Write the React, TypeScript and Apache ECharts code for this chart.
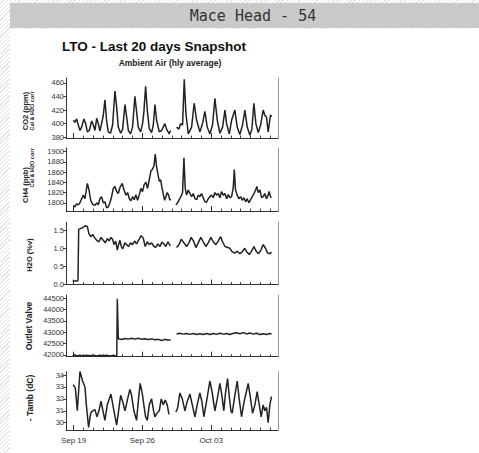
import React, { useEffect, useRef } from "react";
import * as echarts from "echarts";

// x values are day offsets from Sep 19 00:00; null marks the data gap
const dateLabels = ["Sep 19", "Sep 26", "Oct 03"];
const majorDays = [0, 7, 14];
const dailyTicks = [0, 1, 2, 3, 4, 5, 6, 7, 8, 9, 10, 11, 12, 13, 14, 15, 16, 17, 18, 19, 20];

const co2 = [
  [-0.03, 405], [0.14, 402], [0.31, 407], [0.48, 398], [0.65, 390], [0.82, 395], [1.06, 407], [1.23, 400],
  [1.4, 388], [1.6, 390], [1.84, 404], [2.01, 398], [2.18, 390], [2.35, 408], [2.52, 400], [2.68, 389],
  [2.85, 400], [3.02, 412], [3.19, 435], [3.36, 405], [3.53, 388], [3.76, 386], [3.97, 398], [4.21, 448],
  [4.38, 425], [4.55, 395], [4.79, 386], [4.99, 392], [5.23, 428], [5.4, 410], [5.57, 390], [5.8, 385],
  [6.0, 395], [6.24, 440], [6.41, 418], [6.58, 395], [6.82, 388], [7.02, 400], [7.16, 418], [7.33, 455],
  [7.5, 420], [7.7, 393], [7.94, 387], [8.11, 398], [8.28, 428], [8.45, 405], [8.72, 388], [8.96, 390],
  [9.29, 400], [9.46, 392], [9.73, 385], [9.87, 390], [10.15, null], [10.48, 395], [10.72, 392], [10.89, 400],
  [11.09, 398], [11.26, 465], [11.43, 415], [11.67, 385], [12.01, 395], [12.27, 430], [12.52, 405], [12.85, 388],
  [13.12, 400], [13.36, 418], [13.6, 395], [13.87, 385], [14.14, 398], [14.38, 437], [14.62, 405], [14.89, 386],
  [15.16, 395], [15.4, 420], [15.57, 400], [15.84, 385], [16.08, 405], [16.41, 420], [16.65, 395], [16.92, 384],
  [17.19, 398], [17.43, 420], [17.67, 395], [17.94, 383], [18.14, 392], [18.35, 430], [18.55, 400], [18.79, 387],
  [19.03, 398], [19.29, 420], [19.46, 412], [19.63, 410], [19.8, 388], [20.04, 413], [20.14, 410],
];

const ch4 = [
  [-0.03, 1795], [0.14, 1792], [0.31, 1798], [0.48, 1796], [0.65, 1800], [0.82, 1808], [0.99, 1815], [1.16, 1808],
  [1.4, 1838], [1.57, 1825], [1.74, 1805], [1.94, 1797], [2.18, 1795], [2.35, 1800], [2.52, 1796], [2.68, 1808],
  [2.85, 1812], [3.02, 1800], [3.19, 1802], [3.36, 1790], [3.53, 1792], [3.7, 1800], [3.87, 1812], [4.04, 1828],
  [4.21, 1832], [4.38, 1822], [4.55, 1818], [4.72, 1830], [4.96, 1838], [5.13, 1825], [5.33, 1815], [5.5, 1820],
  [5.67, 1808], [5.84, 1804], [6.0, 1812], [6.17, 1806], [6.34, 1816], [6.51, 1805], [6.68, 1815], [6.85, 1828],
  [7.02, 1822], [7.19, 1836], [7.36, 1840], [7.53, 1828], [7.7, 1845], [7.87, 1862], [8.04, 1866], [8.18, 1872],
  [8.31, 1895], [8.45, 1870], [8.62, 1852], [8.72, 1842], [8.86, 1845], [8.99, 1830], [9.12, 1818], [9.26, 1805],
  [9.39, 1812], [9.53, 1820], [9.67, 1815], [9.8, 1805], [9.87, 1808], [10.15, null], [10.41, 1796], [10.58, 1800],
  [10.75, 1806], [10.92, 1812], [11.09, 1820], [11.23, 1888], [11.36, 1828], [11.5, 1815], [11.67, 1825], [11.84, 1818],
  [12.01, 1812], [12.18, 1818], [12.35, 1808], [12.52, 1806], [12.68, 1815], [12.85, 1812], [13.02, 1818], [13.19, 1810],
  [13.36, 1802], [13.53, 1801], [13.7, 1808], [13.87, 1812], [14.04, 1815], [14.21, 1810], [14.38, 1820], [14.55, 1815],
  [14.72, 1818], [14.89, 1810], [15.06, 1822], [15.23, 1815], [15.4, 1818], [15.57, 1808], [15.74, 1816], [15.91, 1810],
  [16.08, 1812], [16.25, 1830], [16.35, 1865], [16.48, 1825], [16.65, 1815], [16.82, 1808], [16.99, 1812], [17.16, 1805],
  [17.33, 1810], [17.5, 1802], [17.67, 1808], [17.84, 1800], [18.01, 1806], [18.18, 1812], [18.35, 1818], [18.52, 1825],
  [18.65, 1832], [18.79, 1820], [18.96, 1825], [19.13, 1810], [19.29, 1812], [19.46, 1818], [19.63, 1808], [19.8, 1815],
  [19.9, 1822], [20.04, 1812], [20.14, 1810],
];

const h2o = [
  [-0.09, 0.1], [0.38, 0.1], [0.45, 0.12], [0.52, 1.52], [0.75, 1.55], [0.99, 1.58], [1.19, 1.62], [1.4, 1.6],
  [1.57, 1.4], [1.74, 1.32], [1.94, 1.38], [2.18, 1.28], [2.35, 1.22], [2.58, 1.18], [2.79, 1.3], [3.02, 1.22],
  [3.23, 1.15], [3.43, 1.27], [3.63, 1.2], [3.8, 1.3], [3.97, 1.25], [4.11, 1.1], [4.28, 1.2], [4.45, 0.95],
  [4.58, 1.1], [4.72, 1.22], [4.86, 1.05], [4.99, 0.98], [5.23, 1.15], [5.4, 1.1], [5.6, 1.05], [5.8, 1.15],
  [6.0, 1.1], [6.21, 1.2], [6.41, 1.12], [6.68, 1.25], [6.88, 1.35], [7.09, 1.28], [7.29, 1.05], [7.5, 1.18],
  [7.7, 1.1], [7.94, 1.15], [8.18, 1.05], [8.38, 1.03], [8.58, 1.12], [8.79, 1.05], [8.99, 1.17], [9.19, 1.12],
  [9.39, 1.05], [9.6, 1.18], [9.8, 1.08], [9.87, 1.1], [10.15, null], [10.48, 1.02], [10.72, 1.1], [10.96, 1.25],
  [11.23, 1.15], [11.5, 1.05], [11.74, 1.15], [11.97, 1.3], [12.21, 1.2], [12.45, 1.02], [12.68, 1.15], [12.95, 1.3],
  [13.19, 1.18], [13.46, 1.05], [13.7, 1.15], [13.97, 1.3], [14.21, 1.18], [14.48, 1.1], [14.72, 1.2], [14.96, 1.32],
  [15.16, 1.18], [15.4, 1.05], [15.63, 1.03], [15.91, 1.0], [16.14, 0.9], [16.41, 0.87], [16.65, 0.92], [16.92, 0.85],
  [17.16, 0.9], [17.39, 1.0], [17.63, 0.9], [17.87, 0.83], [18.11, 0.92], [18.35, 1.05], [18.58, 0.92], [18.82, 0.85],
  [19.06, 0.95], [19.29, 1.1], [19.53, 1.0], [19.73, 0.87], [19.97, 0.85], [20.14, 0.9],
];

const outletValve = [
  [-0.09, 41970], [0.14, 42010], [0.31, 41960], [0.65, 41990], [0.99, 41960], [1.33, 41985], [1.67, 41965], [2.01, 41990],
  [2.35, 41960], [2.68, 41985], [3.02, 41965], [3.36, 41990], [3.7, 41960], [4.04, 41975], [4.31, 41960], [4.4, 41970],
  [4.45, 44480], [4.55, 42720], [4.89, 42680], [5.23, 42730], [5.57, 42700], [5.91, 42740], [6.24, 42700], [6.58, 42735],
  [6.92, 42690], [7.26, 42720], [7.6, 42680], [7.94, 42710], [8.28, 42670], [8.62, 42690], [8.96, 42640], [9.29, 42690],
  [9.63, 42650], [9.87, 42670], [10.15, null], [10.48, 42930], [10.82, 42960], [11.16, 42920], [11.5, 42950], [11.84, 42910],
  [12.18, 42945], [12.52, 42900], [12.85, 42940], [13.19, 42905], [13.53, 42950], [13.87, 42900], [14.21, 42945], [14.55, 42910],
  [14.89, 42960], [15.23, 42920], [15.57, 42950], [15.91, 42905], [16.25, 42960], [16.58, 42980], [16.92, 42940], [17.26, 42985],
  [17.6, 42930], [17.94, 42970], [18.28, 42920], [18.62, 42960], [18.96, 42900], [19.29, 42940], [19.63, 42905], [19.97, 42950],
  [20.14, 42930],
];

const tamb = [
  [-0.03, 33.2], [0.18, 32.9], [0.38, 31.0], [0.65, 34.3], [0.92, 33.5], [1.16, 33.0], [1.3, 31.5], [1.53, 29.6],
  [1.74, 30.8], [1.94, 31.0], [2.18, 31.1], [2.38, 30.5], [2.58, 31.0], [2.79, 31.8], [2.99, 31.0], [3.19, 30.2],
  [3.43, 31.5], [3.8, 32.4], [4.11, 31.0], [4.38, 29.8], [4.58, 31.0], [4.79, 32.3], [4.99, 31.8], [5.23, 31.0],
  [5.5, 32.0], [5.73, 32.8], [5.9, 32.3], [6.14, 31.0], [6.41, 30.2], [6.61, 32.0], [6.78, 33.3], [6.98, 32.5],
  [7.15, 31.5], [7.33, 30.5], [7.5, 30.2], [7.7, 31.5], [7.94, 32.0], [8.14, 31.0], [8.28, 30.5], [8.48, 30.8],
  [8.72, 31.0], [8.92, 32.0], [9.12, 31.5], [9.33, 31.9], [9.53, 31.5], [9.7, 30.7], [10.15, null], [10.41, 30.9],
  [10.58, 31.2], [10.82, 32.5], [11.06, 32.0], [11.33, 31.0], [11.57, 31.8], [11.84, 32.4], [12.08, 31.5], [12.35, 30.5],
  [12.58, 31.5], [12.85, 32.5], [13.05, 31.8], [13.26, 30.5], [13.53, 31.8], [13.87, 33.5], [14.11, 32.5], [14.38, 31.0],
  [14.62, 32.0], [14.89, 33.3], [15.09, 32.3], [15.29, 31.0], [15.46, 32.5], [15.67, 33.7], [15.84, 32.2], [16.01, 31.0],
  [16.14, 30.8], [16.41, 32.3], [16.65, 33.5], [16.85, 32.0], [17.09, 30.5], [17.36, 31.8], [17.77, 33.3], [18.01, 32.0],
  [18.21, 30.8], [18.45, 31.5], [18.68, 32.6], [18.89, 31.5], [19.09, 30.5], [19.29, 31.5], [19.46, 31.0], [19.63, 31.3],
  [19.8, 30.0], [19.97, 31.5], [20.14, 32.2],
];

const co2Ticks = [380, 400, 420, 440, 460];
const ch4Ticks = [1800, 1820, 1840, 1860, 1880, 1900];
const h2oTicks = [0, 0.5, 1, 1.5];
const valveTicks = [42000, 42500, 43000, 43500, 44000, 44500];
const tambTicks = [30, 31, 32, 33, 34];

const FONT = "'Liberation Sans', Arial, sans-serif";

export default function App() {
  const ref = useRef<HTMLDivElement>(null);
  useEffect(() => {
    if (!ref.current) return;
    const chart = echarts.init(ref.current, null, { renderer: "svg" });

    const panels = [
      { data: co2, ticks: co2Ticks, min: 379, max: 467, top: 78, height: 60, fmt: (v: number) => String(v) },
      { data: ch4, ticks: ch4Ticks, min: 1784, max: 1907, top: 148, height: 63, fmt: (v: number) => String(v) },
      { data: h2o, ticks: h2oTicks, min: 0, max: 1.72, top: 222.2, height: 62.3, fmt: (v: number) => v.toFixed(1) },
      { data: outletValve, ticks: valveTicks, min: 41925, max: 44645, top: 295, height: 61.7, fmt: (v: number) => String(v) },
      { data: tamb, ticks: tambTicks, min: 29.39, max: 34.28, top: 371.7, height: 58.3, fmt: (v: number) => String(v) },
    ];
    const xMin = -0.77;
    const xMax = 20.8;

    const grid = panels.map((p) => ({ left: 66, width: 212, top: p.top, height: p.height, containLabel: false }));
    const xAxis: any[] = [];
    panels.forEach((p, i) => {
      xAxis.push({
        type: "value", gridIndex: i, min: xMin, max: xMax,
        axisLine: { show: true, onZero: false, lineStyle: { color: "#333", width: 1 } },
        axisTick: { show: true, inside: true, length: 2.5, customValues: dailyTicks, lineStyle: { color: "#444" } },
        axisLabel: {
          show: i === 4, customValues: majorDays, margin: 6, fontSize: 8, color: "#333", fontFamily: FONT,
          formatter: (v: number) => dateLabels[majorDays.indexOf(Math.round(v))] ?? "",
        },
        splitLine: { show: false },
      });
    });
    panels.forEach((p, i) => {
      xAxis.push({
        type: "value", gridIndex: i, min: xMin, max: xMax, position: "bottom",
        axisLine: { show: false, onZero: false },
        axisTick: { show: true, inside: true, length: 5, customValues: majorDays, lineStyle: { color: "#333" } },
        axisLabel: { show: false },
        splitLine: { show: false },
      });
    });
    const yAxis: any[] = [];
    panels.forEach((p, i) => {
      yAxis.push({
        type: "value", gridIndex: i, min: p.min, max: p.max, position: "left",
        axisLine: { show: true, onZero: false, lineStyle: { color: "#333", width: 1 } },
        axisTick: { show: true, inside: false, length: 3, customValues: p.ticks, lineStyle: { color: "#444" } },
        axisLabel: { customValues: p.ticks, margin: 2, fontSize: 7.5, color: "#333", fontFamily: FONT, formatter: p.fmt },
        splitLine: { show: false },
      });
    });
    panels.forEach((p, i) => {
      yAxis.push({
        type: "value", gridIndex: i, min: p.min, max: p.max, position: "right",
        axisLine: { show: true, onZero: false, lineStyle: { color: "#999", width: 1 } },
        axisTick: { show: false }, axisLabel: { show: false }, splitLine: { show: false },
      });
    });

    const series = panels.map((p, i) => ({
      type: "line", xAxisIndex: i, yAxisIndex: i,
      data: p.data.map(([d, v]) => [d, v === null ? "-" : v]),
      showSymbol: false, symbol: "none", connectNulls: false,
      lineStyle: { color: "#222", width: 1.5 },
    }));

    const vText = (text: string, x: number, y: number, size: number, weight = "bold") => ({
      type: "text", x, y, rotation: Math.PI / 2, z: 5,
      style: { text, fontSize: size, fontWeight: weight, fontFamily: FONT, fill: "#222", align: "center", verticalAlign: "middle" },
    });

    chart.setOption({
      animation: false,
      grid,
      xAxis,
      yAxis,
      series,
      graphic: [
        { type: "rect", z: -10, shape: { x: 10, y: 29, width: 469, height: 424 }, style: { fill: "#ffffff" } },
        { type: "rect", z: -9, shape: { x: 10, y: 3, width: 469, height: 25 }, style: { fill: "#c9c9c9" } },
        { type: "text", z: 5, x: 253, y: 15.5, style: { text: "Mace Head - 54", fontSize: 15, fontFamily: "'DejaVu Sans Mono', monospace", fill: "#333", align: "center", verticalAlign: "middle" } },
        { type: "text", z: 5, x: 154, y: 46.5, style: { text: "LTO - Last 20 days Snapshot", fontSize: 13.5, fontWeight: "bold", fontFamily: FONT, fill: "#111", align: "center", verticalAlign: "middle" } },
        { type: "text", z: 5, x: 170, y: 63, style: { text: "Ambient Air (hly average)", fontSize: 8.5, fontWeight: "bold", fontFamily: FONT, fill: "#222", align: "center", verticalAlign: "middle" } },
        vText("CO2 (ppm)", 25, 111, 7.5),
        vText("Cal & H2O corr", 32, 111, 5.5),
        vText("CH4 (ppb)", 25, 185, 7.5),
        vText("Cal & H2O corr", 32, 168, 5.5),
        vText("H2O (%v)", 29, 255, 7.5),
        vText("Outlet Valve", 29, 326, 8.5),
        vText("- Tamb (dC)", 30, 398, 8.5),
      ],
    });
    return () => chart.dispose();
  }, []);
  return (
    <div
      ref={ref}
      style={{
        position: "fixed", left: 0, top: 0, width: 479, height: 453,
        background: "repeating-linear-gradient(135deg, #ffffff 0px, #ffffff 2px, #e4e4e4 2px, #e4e4e4 3px)",
      }}
    />
  );
}
